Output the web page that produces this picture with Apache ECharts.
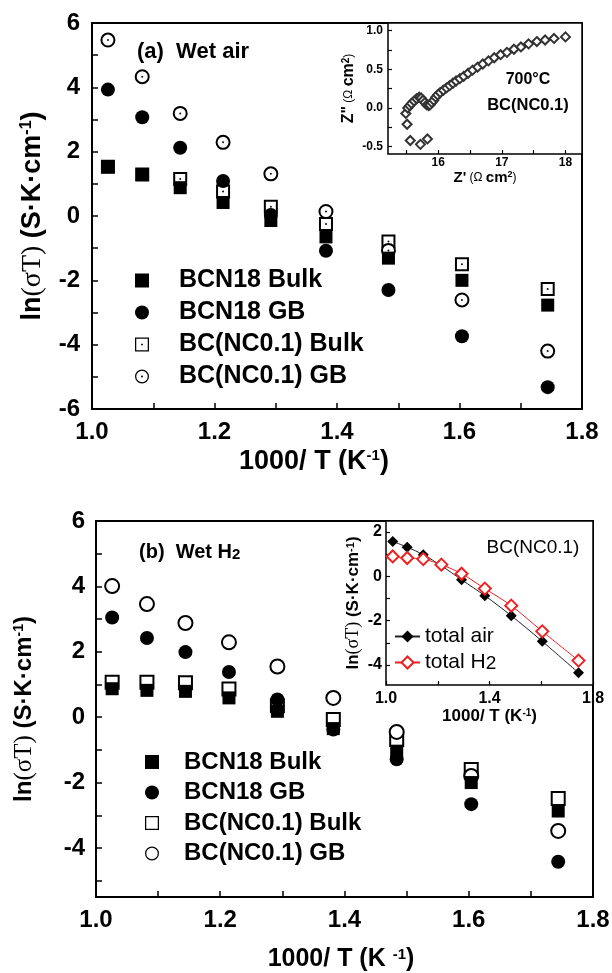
<!DOCTYPE html>
<html><head><meta charset="utf-8">
<script src="https://cdn.jsdelivr.net/npm/echarts@6/dist/echarts.min.js"></script>
<style>html,body{margin:0;padding:0;background:#fff}#c{width:612px;height:973px}</style>
</head><body><div id="c"></div>
<script>
// ---------- data ----------
const invT = [1.026, 1.082, 1.144, 1.214, 1.292, 1.382, 1.484, 1.604, 1.744];
const names = ['BCN18 Bulk', 'BCN18 GB', 'BC(NC0.1) Bulk', 'BC(NC0.1) GB'];
// (a) wet air
const airBcnBulk = [1.53, 1.29, 0.88, 0.42, -0.14, -0.65, -1.31, -2.00, -2.77];
const airBcnGB   = [3.93, 3.07, 2.12, 1.09, 0.03, -1.08, -2.30, -3.74, -5.32];
const airNcBulk  = [1.53, 1.29, 1.15, 0.76, 0.29, -0.25, -0.79, -1.50, -2.27];
const airNcGB    = [5.47, 4.33, 3.19, 2.29, 1.31, 0.14, -1.07, -2.61, -4.20];
// (b) wet H2
const h2BcnBulk = [0.87, 0.82, 0.79, 0.59, 0.18, -0.35, -1.04, -2.00, -2.87];
const h2BcnGB   = [3.05, 2.42, 1.99, 1.38, 0.54, -0.38, -1.29, -2.66, -4.42];
const h2NcBulk  = [1.07, 1.07, 1.05, 0.86, 0.35, -0.07, -0.68, -1.60, -2.49];
const h2NcGB    = [4.01, 3.46, 2.88, 2.29, 1.55, 0.59, -0.45, -1.80, -3.48];
// inset (b): totals of BC(NC0.1)
const totAir = [1.58, 1.32, 0.98, 0.48, -0.15, -0.87, -1.77, -2.93, -4.35];
const totH2  = [0.90, 0.83, 0.78, 0.53, 0.12, -0.55, -1.32, -2.48, -3.80];
// inset (a): impedance spectrum 700 C
const nyqRe = [15.83, 15.72, 15.56, 15.51, 15.49, 15.52, 15.55, 15.58, 15.62, 15.66, 15.70, 15.73, 15.76, 15.79, 15.82, 15.85, 15.87, 15.90, 15.93, 15.96, 15.99, 16.03, 16.08, 16.13, 16.18, 16.23, 16.28, 16.34, 16.40, 16.47, 16.54, 16.62, 16.70, 16.79, 16.88, 16.98, 17.08, 17.19, 17.30, 17.42, 17.55, 17.68, 17.82, 18.00];
const nyqIm = [-0.40, -0.47, -0.42, -0.21, -0.07, 0.00, 0.03, 0.06, 0.09, 0.12, 0.14, 0.13, 0.10, 0.07, 0.04, 0.03, 0.04, 0.07, 0.10, 0.14, 0.17, 0.20, 0.23, 0.26, 0.29, 0.32, 0.35, 0.38, 0.41, 0.45, 0.49, 0.53, 0.57, 0.61, 0.65, 0.69, 0.72, 0.76, 0.79, 0.83, 0.86, 0.88, 0.90, 0.92];
// ticks / labels
const xTicksMain = [1.0, 1.1, 1.2, 1.3, 1.4, 1.5, 1.6, 1.7, 1.8];
const xLabelsMain = [1.0, 1.2, 1.4, 1.6, 1.8];
const yTicksA = [-6, -5, -4, -3, -2, -1, 0, 1, 2, 3, 4, 5, 6];
const yLabelsA = [-6, -4, -2, 0, 2, 4, 6];
const yTicksB = [-5, -4, -3, -2, -1, 0, 1, 2, 3, 4, 5, 6];
const yLabelsB = [-4, -2, 0, 2, 4, 6];
const xTicksNyq = [15.5, 16, 16.5, 17, 17.5, 18];
const xLabelsNyq = [16, 17, 18];
const yTicksNyq = [-0.5, -0.25, 0, 0.25, 0.5, 0.75, 1.0];
const yLabelsNyq = [-0.5, 0, 0.5, 1.0];
const xTicksIn = [1.0, 1.2, 1.4, 1.6, 1.8];
const xLabelsIn = [1.0, 1.4, 1.8];
const yTicksIn = [-4, -3, -2, -1, 0, 1, 2];
const yLabelsIn = [-4, -2, 0, 2];

// ---------- helpers ----------
const FF = '"Liberation Sans", Arial, sans-serif';
const FS = '"Liberation Serif", "Times New Roman", serif';
const pairs = (xs, ys) => xs.map((x, i) => [x, ys[i]]);

const P_SQ = 'path://M0,0L100,0L100,100L0,100Z';
const P_CI = 'path://M0,50A50,50,0,1,0,100,50A50,50,0,1,0,0,50Z';
const P_SQ_RD = 'path://M0,0L100,0L100,100L0,100Z M9,9L9,91L91,91L91,9Z M44,44L56,44L56,56L44,56Z';
const P_CI_RD = 'path://M0,50A50,50,0,1,0,100,50A50,50,0,1,0,0,50Z M9,50A41,41,0,1,1,91,50A41,41,0,1,1,9,50Z M43,50A7,7,0,1,0,57,50A7,7,0,1,0,43,50Z';
const P_SQ_R = 'path://M0,0L100,0L100,100L0,100Z M9,9L9,91L91,91L91,9Z';
const P_CI_R = 'path://M0,50A50,50,0,1,0,100,50A50,50,0,1,0,0,50Z M9,50A41,41,0,1,1,91,50A41,41,0,1,1,9,50Z';

function valAxis(o) {
  return {
    type: 'value', gridIndex: o.grid, min: o.min, max: o.max, position: o.pos,
    axisLine: { show: false, onZero: false },
    splitLine: { show: false },
    axisTick: { show: true, inside: true, length: o.tickLen, lineStyle: { color: '#000', width: o.tickW }, customValues: o.ticks },
    axisLabel: { show: true, customValues: o.labels, formatter: o.fmt, margin: o.margin, color: '#000',
      fontFamily: FF, fontWeight: 'bold', fontSize: o.fs, showMinLabel: true, showMaxLabel: true },
    name: o.name || '', nameLocation: 'middle', nameGap: o.nameGap || 0,
    nameTextStyle: o.nameStyle || {}
  };
}
const f1 = v => Number(v).toFixed(1);
const f0 = v => String(Math.round(v));

function supRich(base, sup) {
  return {
    t: { fontSize: base, fontWeight: 'bold', fontFamily: FF, color: '#000', lineHeight: base },
    sup: { fontSize: sup, fontWeight: 'bold', fontFamily: FF, color: '#000', verticalAlign: 'top', lineHeight: Math.round(sup * 0.75) }
  };
}
function lnRich(b, s, sup) {
  return {
    b: { fontSize: b, fontWeight: 'bold', fontFamily: FF, color: '#000', lineHeight: b },
    s: { fontSize: s, fontWeight: 'normal', fontFamily: FS, color: '#000', lineHeight: b },
    sup: { fontSize: sup, fontWeight: 'bold', fontFamily: FF, color: '#000', verticalAlign: 'top', lineHeight: Math.round(sup * 0.75) }
  };
}
function zRich(z, o, sup) {
  return {
    z: { fontSize: z, fontWeight: 'bold', fontFamily: FF, color: '#000', lineHeight: z },
    o: { fontSize: o, fontWeight: 'normal', fontFamily: FF, color: '#000', lineHeight: z },
    sup: { fontSize: sup, fontWeight: 'bold', fontFamily: FF, color: '#000', verticalAlign: 'top', lineHeight: Math.round(sup * 0.75) }
  };
}
const LN_NAME = '{b|ln}{s|(σT)}{b| (S·K·cm}{sup|-1}{b|)}';

function scat(name, xi, data, symbol, size, extra) {
  return Object.assign({
    type: 'scatter', name, xAxisIndex: xi, yAxisIndex: xi, data, symbol, symbolSize: size,
    itemStyle: { color: '#000', opacity: 1 }, silent: true, emphasis: { disabled: true }
  }, extra || {});
}
const openStyle = { itemStyle: { color: '#000', borderColor: '#000', borderWidth: 1.2, opacity: 1 } };
const dotStyle = { itemStyle: { color: '#111', opacity: 1 }, legendHoverLink: false };

// ---------- option ----------
const option = {
  animation: false,
  backgroundColor: '#fff',
  grid: [
    { left: 92, top: 23, width: 490, height: 386, show: true, borderColor: '#000', borderWidth: 2, outerBoundsMode: 'none' },
    { left: 388, top: 23, width: 194, height: 131, show: true, backgroundColor: '#fff', borderColor: '#000', borderWidth: 1.5, outerBoundsMode: 'none' },
    { left: 96, top: 521, width: 497, height: 376, show: true, borderColor: '#000', borderWidth: 2, outerBoundsMode: 'none' },
    { left: 386, top: 521, width: 207, height: 164, show: true, backgroundColor: '#fff', borderColor: '#000', borderWidth: 1.5, outerBoundsMode: 'none' }
  ],
  xAxis: [
    valAxis({ grid: 0, min: 1.0, max: 1.8, pos: 'bottom', ticks: xTicksMain, labels: xLabelsMain, fmt: f1, fs: 24, margin: 11, tickLen: 6, tickW: 1.5,
      name: '{t|1000/ T (K}{sup|-1}{t|)}', nameGap: 39, nameStyle: { rich: supRich(27, 15), padding: [0, 46, 0, 0] } }),
    valAxis({ grid: 1, min: 15.21, max: 18.26, pos: 'bottom', ticks: xTicksNyq, labels: xLabelsNyq, fmt: f0, fs: 12, margin: 3, tickLen: 4, tickW: 1.2,
      name: '{z|Z\'}{o| (Ω }{z|cm}{sup|2}{o|)}', nameGap: 14, nameStyle: { rich: zRich(15, 12, 9) } }),
    valAxis({ grid: 2, min: 1.0, max: 1.8, pos: 'bottom', ticks: xTicksMain, labels: xLabelsMain, fmt: f1, fs: 24, margin: 11, tickLen: 6, tickW: 1.5,
      name: '{t|1000/ T (K }{sup|-1}{t|)}', nameGap: 50, nameStyle: { rich: supRich(25, 15), padding: [0, 7, 0, 0] } }),
    valAxis({ grid: 3, min: 1.0, max: 1.8, pos: 'bottom', ticks: xTicksIn, labels: xLabelsIn, fmt: f1, fs: 16, margin: 6, tickLen: 4, tickW: 1.2,
      name: '{t|1000/ T (K}{sup|-1}{t|)}', nameGap: 23, nameStyle: { rich: supRich(17, 10) } })
  ],
  yAxis: [
    valAxis({ grid: 0, min: -6, max: 6, pos: 'left', ticks: yTicksA, labels: yLabelsA, fmt: f0, fs: 24, margin: 12, tickLen: 6, tickW: 1.5,
      name: LN_NAME, nameGap: 46, nameStyle: { rich: lnRich(27, 28, 16) } }),
    valAxis({ grid: 1, min: -0.595, max: 1.1, pos: 'left', ticks: yTicksNyq, labels: yLabelsNyq, fmt: f1, fs: 12, margin: 5, tickLen: 4, tickW: 1.2,
      name: '{z|Z"}{o| (Ω }{z|cm}{sup|2}{o|)}', nameGap: 31, nameStyle: { rich: zRich(16, 12, 10) } }),
    valAxis({ grid: 2, min: -5.5, max: 6, pos: 'left', ticks: yTicksB, labels: yLabelsB, fmt: f0, fs: 24, margin: 11, tickLen: 6, tickW: 1.5,
      name: LN_NAME, nameGap: 60, nameStyle: { rich: lnRich(24, 25, 14) } }),
    valAxis({ grid: 3, min: -4.9, max: 2.5, pos: 'left', ticks: yTicksIn, labels: yLabelsIn, fmt: f0, fs: 16, margin: 4, tickLen: 4, tickW: 1.2,
      name: LN_NAME, nameGap: 24, nameStyle: { rich: lnRich(17, 18, 11) } })
  ],
  legend: [
    { orient: 'vertical', left: 135, top: 268, padding: 0, itemWidth: 64, itemHeight: 14, itemGap: 7, selectedMode: false,
      itemStyle: { color: '#000', borderWidth: 0 },
      textStyle: { fontSize: 25, fontWeight: 'bold', fontFamily: FF, color: '#000', lineHeight: 25 },
      data: [{ name: names[0], icon: P_SQ }, { name: names[1], icon: P_CI }, { name: names[2], icon: P_SQ_RD }, { name: names[3], icon: P_CI_RD }] },
    { orient: 'vertical', left: 145, top: 750, padding: 0, itemWidth: 54, itemHeight: 14, itemGap: 6.5, selectedMode: false,
      itemStyle: { color: '#000', borderWidth: 0 },
      textStyle: { fontSize: 24, fontWeight: 'bold', fontFamily: FF, color: '#000', lineHeight: 24 },
      data: [{ name: names[0], icon: P_SQ }, { name: names[1], icon: P_CI }, { name: names[2], icon: P_SQ_R }, { name: names[3], icon: P_CI_R }] },
    { orient: 'vertical', left: 394, top: 626, padding: 0, itemWidth: 25, itemHeight: 15, itemGap: 5, selectedMode: false,
      textStyle: { fontSize: 21, fontWeight: 'normal', fontFamily: FF, color: '#000', lineHeight: 21,
        rich: { sub: { fontSize: 19, fontFamily: FF, color: '#000', verticalAlign: 'bottom', lineHeight: 10 } } },
      formatter: n => n === 'total H2' ? 'total H{sub|2}' : n,
      data: ['total air', 'total H2'] }
  ],
  graphic: [
    { type: 'text', x: 137, y: 52, z: 100, silent: true,
      style: { text: '(a)  Wet air', fontSize: 22, fontWeight: 'bold', fontFamily: FF, fill: '#000', align: 'left', verticalAlign: 'middle' } },
    { type: 'text', x: 139, y: 552, z: 100, silent: true,
      style: { text: '{t|(b)  Wet H}{s|2}', align: 'left', verticalAlign: 'middle',
        rich: { t: { fontSize: 20, fontWeight: 'bold', fontFamily: FF, fill: '#000', color: '#000', lineHeight: 20 },
                s: { fontSize: 15, fontWeight: 'bold', fontFamily: FF, fill: '#000', color: '#000', verticalAlign: 'bottom', lineHeight: 6 } } } },
    { type: 'text', x: 528, y: 80, z: 100, silent: true,
      style: { text: '700°C', fontSize: 16, fontWeight: 'bold', fontFamily: FF, fill: '#000', align: 'center', verticalAlign: 'middle' } },
    { type: 'text', x: 528, y: 105, z: 100, silent: true,
      style: { text: 'BC(NC0.1)', fontSize: 16.5, fontWeight: 'bold', fontFamily: FF, fill: '#000', align: 'center', verticalAlign: 'middle' } },
    { type: 'text', x: 533, y: 548, z: 100, silent: true,
      style: { text: 'BC(NC0.1)', fontSize: 19, fontWeight: 'normal', fontFamily: FF, fill: '#000', align: 'center', verticalAlign: 'middle' } }
  ],
  series: [
    // panel (a)
    scat(names[2], 0, pairs(invT, airNcBulk), 'emptyRect', 12, openStyle),
    scat('dotA1', 0, pairs(invT, airNcBulk), 'circle', 2, dotStyle),
    scat(names[3], 0, pairs(invT, airNcGB), 'emptyCircle', 13, openStyle),
    scat('dotA2', 0, pairs(invT, airNcGB), 'circle', 2, dotStyle),
    scat(names[0], 0, pairs(invT, airBcnBulk), 'rect', 13),
    scat(names[1], 0, pairs(invT, airBcnGB), 'circle', 14),
    // inset (a)
    scat('nyquist', 1, pairs(nyqRe, nyqIm), 'emptyDiamond', 9,
      { itemStyle: { color: '#333', borderColor: '#333', borderWidth: 1, opacity: 1 } }),
    // panel (b)
    scat(names[2], 2, pairs(invT, h2NcBulk), 'emptyRect', 13, openStyle),
    scat(names[3], 2, pairs(invT, h2NcGB), 'emptyCircle', 14, openStyle),
    scat(names[0], 2, pairs(invT, h2BcnBulk), 'rect', 13),
    scat(names[1], 2, pairs(invT, h2BcnGB), 'circle', 14),
    // inset (b)
    { type: 'line', name: 'total air', xAxisIndex: 3, yAxisIndex: 3, data: pairs(invT, totAir),
      symbol: 'diamond', symbolSize: 11, smooth: 0.3, silent: true, emphasis: { disabled: true },
      lineStyle: { color: '#222', width: 1 }, itemStyle: { color: '#000', opacity: 1 } },
    { type: 'line', name: 'total H2', xAxisIndex: 3, yAxisIndex: 3, data: pairs(invT, totH2),
      symbol: 'emptyDiamond', symbolSize: 12, smooth: 0.3, silent: true, emphasis: { disabled: true },
      lineStyle: { color: '#f02020', width: 1 }, itemStyle: { color: '#f02020', borderColor: '#f02020', borderWidth: 1.2, opacity: 1 } }
  ]
};
const chart = echarts.init(document.getElementById('c'), null, { renderer: 'canvas' });
chart.setOption(option);
</script>
</body></html>
